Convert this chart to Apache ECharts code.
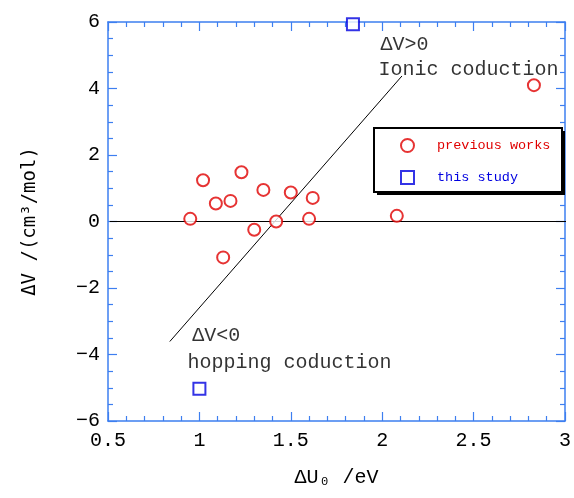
<!DOCTYPE html>
<html>
<head>
<meta charset="utf-8">
<script src="https://cdn.jsdelivr.net/npm/echarts@6/dist/echarts.min.js"></script>
<style>
  html, body { margin: 0; padding: 0; background: #fff; }
  #main { width: 574px; height: 498px; }
</style>
</head>
<body>
<div id="main"></div>
<script>
// values
const previousWorks = [
  [0.95, 0.08], [1.02, 1.24], [1.09, 0.54], [1.17, 0.62], [1.23, 1.48],
  [1.30, -0.25], [1.35, 0.95], [1.42, 0.0], [1.50, 0.87], [1.60, 0.08],
  [1.62, 0.71], [2.08, 0.17], [2.83, 4.1], [1.13, -1.08]
];
const thisStudy = [[1.84, 5.93], [1.0, -5.03]];
const boundaryLine = [[0.838, -3.61], [2.108, 4.376]];
const zeroLine = [[0.51, 0], [3.02, 0]];
const annotations = [
  [1.99, 5.31, 'ΔV>0'],
  [1.98, 4.56, 'Ionic coduction'],
  [0.96, -3.44, 'ΔV<0'],
  [0.935, -4.26, 'hopping coduction']
];

const axisBlue = '#3d7ff0';
const monoFont = '"Liberation Mono", "DejaVu Sans Mono", monospace';

const chart = echarts.init(document.getElementById('main'));

function frameAxis(extra) {
  return Object.assign({
    type: 'value',
    axisLine: { show: true, onZero: false, lineStyle: { color: axisBlue, width: 1.5 } },
    axisTick: { show: true, inside: true, length: 9, lineStyle: { color: axisBlue, width: 1.2 } },
    minorTick: { show: true, length: 5, lineStyle: { color: axisBlue, width: 1.2 } },
    splitLine: { show: false },
    minorSplitLine: { show: false }
  }, extra);
}

const minus = v => String(v).replace('-', '\u2212');

chart.setOption({
  animation: false,
  backgroundColor: '#fff',
  grid: { left: 108, right: 7, top: 22, bottom: 77 },
  // legend frame with hard black drop shadow
  graphic: [
    { type: 'rect', z: 3, silent: true, shape: { x: 377, y: 131, width: 188, height: 64 }, style: { fill: '#000' } },
    { type: 'rect', z: 3, silent: true, shape: { x: 374, y: 128, width: 188, height: 64 }, style: { fill: '#fff', stroke: '#000', lineWidth: 2 } }
  ],
  xAxis: [
    frameAxis({
      min: 0.5, max: 3, interval: 0.5, position: 'bottom',
      minorTick: { show: true, splitNumber: 5, length: 5, lineStyle: { color: axisBlue, width: 1.2 } },
      axisLabel: { color: '#000', fontFamily: monoFont, fontSize: 20, margin: 10, formatter: minus },
      name: 'ΔU₀ /eV', nameLocation: 'middle', nameGap: 47,
      nameTextStyle: { color: '#000', fontFamily: monoFont, fontSize: 20 }
    }),
    frameAxis({
      min: 0.5, max: 3, interval: 0.5, position: 'top',
      minorTick: { show: true, splitNumber: 5, length: 5, lineStyle: { color: axisBlue, width: 1.2 } },
      axisLabel: { show: false }
    })
  ],
  yAxis: [
    frameAxis({
      min: -6, max: 6, interval: 2, position: 'left',
      minorTick: { show: true, splitNumber: 4, length: 5, lineStyle: { color: axisBlue, width: 1.2 } },
      axisLabel: { color: '#000', fontFamily: monoFont, fontSize: 20, margin: 8, formatter: minus },
      name: 'ΔV /(cm³/mol)', nameLocation: 'middle', nameGap: 68, nameRotate: 90,
      nameTextStyle: { color: '#000', fontFamily: '"DejaVu Sans Mono", monospace', fontSize: 19 }
    }),
    frameAxis({
      min: -6, max: 6, interval: 2, position: 'right',
      minorTick: { show: true, splitNumber: 4, length: 5, lineStyle: { color: axisBlue, width: 1.2 } },
      axisLabel: { show: false }
    })
  ],
  legend: {
    orient: 'vertical',
    left: 374, top: 128, z: 6,
    padding: [10, 10, 12, 26],
    itemWidth: 13, itemHeight: 13, itemGap: 17,
    backgroundColor: 'transparent', borderWidth: 0,
    textStyle: { fontFamily: monoFont, fontSize: 13.5, padding: [0, 0, 0, 18] },
    data: [
      { name: 'previous works', textStyle: { color: '#e00000' } },
      { name: 'this study', textStyle: { color: '#0000e0' } }
    ]
  },
  series: [
    {
      type: 'line', data: zeroLine, symbol: 'none', silent: true, clip: false,
      lineStyle: { color: '#000', width: 1 }, z: 1
    },
    {
      type: 'line', data: boundaryLine, symbol: 'none', silent: true,
      lineStyle: { color: '#000', width: 1 }, z: 1
    },
    {
      name: 'previous works', type: 'scatter', data: previousWorks,
      symbol: 'emptyCircle', symbolSize: 12,
      itemStyle: { color: '#e00000', borderColor: '#e00000', borderWidth: 1.5 }, z: 4
    },
    {
      name: 'this study', type: 'scatter', data: thisStudy, clip: false,
      symbol: 'emptyRect', symbolSize: 12,
      itemStyle: { color: '#0000e0', borderColor: '#0000e0', borderWidth: 1.5 }, z: 4
    },
    {
      type: 'scatter', silent: true, clip: false, symbolSize: 0.1,
      data: annotations.map(a => ({ value: [a[0], a[1]], label: { formatter: a[2] } })),
      itemStyle: { color: 'rgba(0,0,0,0)' },
      label: {
        show: true, position: 'right', distance: 0,
        color: '#000', fontFamily: monoFont, fontSize: 20
      },
      z: 4
    }
  ]
});
</script>
</body>
</html>
